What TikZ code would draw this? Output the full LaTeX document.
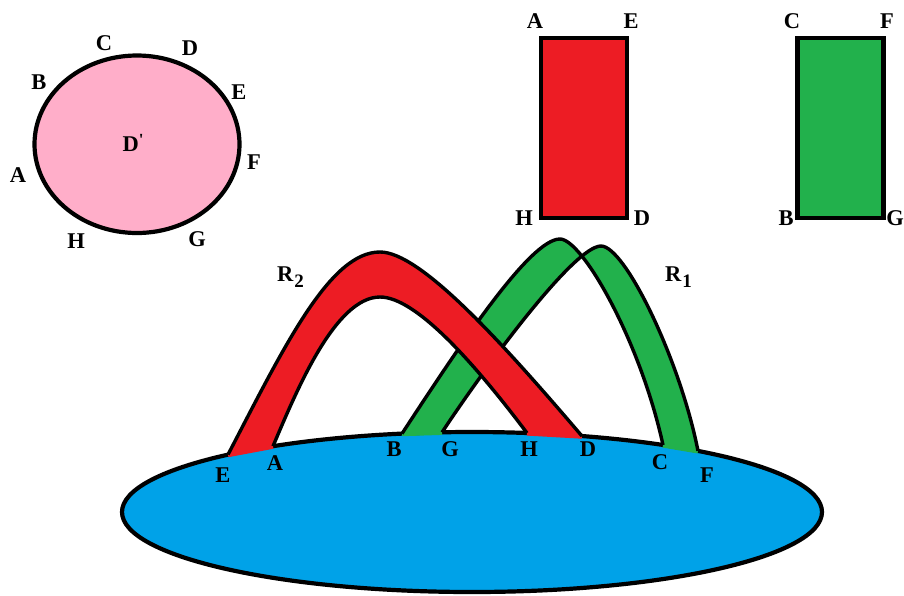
\documentclass[tikz,border=0pt]{standalone}
\usepackage{fontspec}
\setmainfont{Liberation Serif}
\definecolor{pinkfill}{RGB}{255,174,201}
\definecolor{redfill}{RGB}{237,28,36}
\definecolor{greenfill}{RGB}{34,177,76}
\definecolor{bluefill}{RGB}{0,162,232}
\begin{document}
\begin{tikzpicture}[x=1pt,y=-1pt,
  lbl/.style={font=\fontsize{22.5}{22.5}\selectfont\bfseries, inner sep=0pt},
  outline/.style={line width=4.2pt},
  bandedge/.style={line width=3.4pt, line join=round},
  basecover/.style={line width=5.2pt}]
\useasboundingbox (0,0) rectangle (904,595);

% ---- pink disc D'
\draw[outline, fill=pinkfill] (137,144.25) ellipse [x radius=102.5pt, y radius=88.75pt];
\node[lbl] (dC) at (104,43) {C};
\node[lbl] (dD) at (190,48) {D};
\node[lbl] (dB) at (39,82) {B};
\node[lbl] (dE) at (239,92) {E};
\node[lbl] (dDp) at (133,143) {D\raisebox{6pt}{\fontsize{17}{17}\selectfont\textquotesingle}};
\node[lbl] (dF) at (254,162) {F};
\node[lbl] (dA) at (18,175) {A};
\node[lbl] (dH) at (76,241) {H};
\node[lbl] (dG) at (197,239) {G};

% ---- red rectangle
\draw[outline, fill=redfill] (541,38) rectangle (627,218);
\node[lbl] (rA) at (535,21) {A};
\node[lbl] (rE) at (631,21) {E};
\node[lbl] (rH) at (524,218) {H};
\node[lbl] (rD) at (642,218) {D};

% ---- green rectangle
\draw[outline, fill=greenfill] (797.5,38) rectangle (883.5,218);
\node[lbl] (gC) at (792,21) {C};
\node[lbl] (gF) at (887,21) {F};
\node[lbl] (gB) at (786,218) {B};
\node[lbl] (gG) at (895,218) {G};

% ---- blue disc
\fill[bluefill] (472,512) ellipse [x radius=350pt, y radius=80pt];
\draw[outline] (472,512) ellipse [x radius=350pt, y radius=80pt];

% attaching points on the blue disc boundary
\coordinate (bE) at (228,454.6);
\coordinate (bA) at (273,446.2);
\coordinate (bB) at (402,433.6);
\coordinate (bG) at (442,432.3);
\coordinate (bH) at (527,433.0);
\coordinate (bD) at (582,436.1);
\coordinate (bC) at (663,445.0);
\coordinate (bF) at (698,450.9);

% ---- green twisted band R1
\fill[greenfill] (bB) .. controls (460,345) and (530,239) .. (560,239)
   .. controls (582,239) and (640,340) .. (bC) -- (bF)
   .. controls (680,360) and (625,246) .. (601,246)
   .. controls (575,246) and (490,360) .. (bG) -- cycle;
\draw[greenfill, basecover] (bB) -- (bG);
\draw[greenfill, basecover] (bC) -- (bF);
\draw[bandedge] (bB) .. controls (460,345) and (530,239) .. (560,239)
   .. controls (582,239) and (640,340) .. (bC);
\draw[bandedge] (bG) .. controls (490,360) and (575,246) .. (601,246)
   .. controls (625,246) and (680,360) .. (bF);

% ---- red band R2
\fill[redfill] (bE) .. controls (285,345) and (330,252) .. (380,252)
   .. controls (420,252) and (500,340) .. (bD) -- (bH)
   .. controls (472,360) and (415,297) .. (380,297)
   .. controls (335,297) and (296,392) .. (bA) -- cycle;
\draw[redfill, basecover] (bE) -- (bA);
\draw[redfill, basecover] (bH) -- (bD);
\draw[bandedge] (bE) .. controls (285,345) and (330,252) .. (380,252)
   .. controls (420,252) and (500,340) .. (bD);
\draw[bandedge] (bA) .. controls (296,392) and (335,297) .. (380,297)
   .. controls (415,297) and (472,360) .. (bH);

% ---- band labels
\node[lbl, anchor=west] (R2) at (277,277) {R\kern1pt\raisebox{-6pt}{\fontsize{19}{19}\selectfont 2}};
\node[lbl, anchor=west] (R1) at (665,277) {R\kern1pt\raisebox{-6pt}{\fontsize{19}{19}\selectfont 1}};

% ---- labels on the blue disc
\node[lbl] (eE) at (223,475) {E};
\node[lbl] (eA) at (275,463) {A};
\node[lbl] (eB) at (394,449) {B};
\node[lbl] (eG) at (450,449) {G};
\node[lbl] (eH) at (529,449) {H};
\node[lbl] (eD) at (588,449) {D};
\node[lbl] (eC) at (660,462) {C};
\node[lbl] (eF) at (707,475) {F};
\end{tikzpicture}
\end{document}
